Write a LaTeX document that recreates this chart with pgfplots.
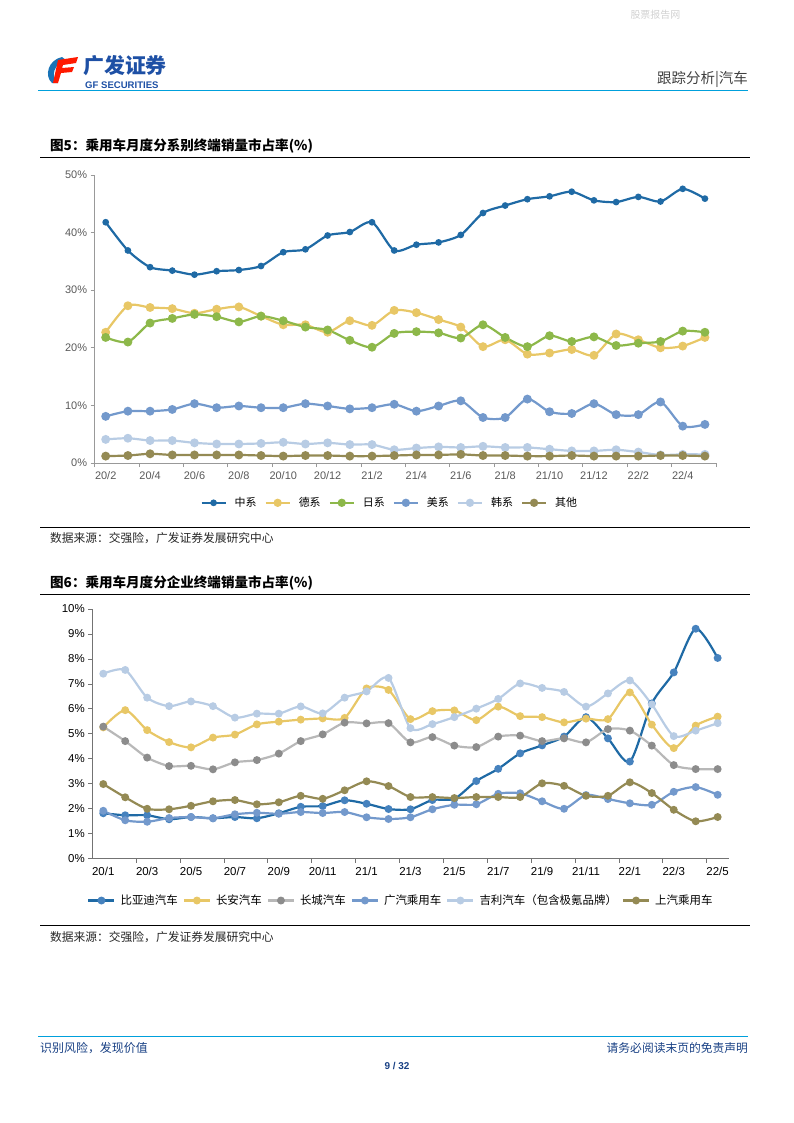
\documentclass[border=0pt]{standalone}
\usepackage{pgfplots}
\pgfplotsset{compat=1.18}
\usepackage{pgfplotstable}
\usepackage{fontspec}
\setmainfont{Liberation Sans}
\newfontfamily\cjk{Noto Sans CJK SC}
\definecolor{cA}{RGB}{31,106,165}
\definecolor{cAm}{RGB}{70,130,190}
\definecolor{cB}{RGB}{232,199,102}
\definecolor{cC}{RGB}{141,184,74}
\definecolor{cD}{RGB}{115,153,204}
\definecolor{cE}{RGB}{184,204,228}
\definecolor{cF}{RGB}{148,138,84}
\definecolor{cG}{RGB}{184,184,184}
\definecolor{cGm}{RGB}{140,140,140}
\definecolor{hdr}{RGB}{0,160,220}
\definecolor{logob}{RGB}{30,80,165}
\definecolor{txtg}{RGB}{89,89,89}

\pgfplotstableread{
x cn de jp us kr ot
0 41.8 22.7 21.8 8.1 4.1 1.2
1 36.9 27.3 21.0 9.0 4.3 1.3
2 34.0 27.0 24.3 9.0 3.9 1.6
3 33.4 26.8 25.1 9.3 3.9 1.4
4 32.7 26.0 25.8 10.3 3.5 1.4
5 33.3 26.7 25.4 9.6 3.3 1.4
6 33.5 27.1 24.5 9.9 3.3 1.4
7 34.2 25.5 25.5 9.6 3.4 1.3
8 36.6 24.0 24.7 9.6 3.6 1.2
9 37.1 24.0 23.6 10.3 3.3 1.3
10 39.5 22.7 23.1 9.9 3.5 1.3
11 40.1 24.7 21.3 9.4 3.2 1.2
12 41.8 23.9 20.1 9.6 3.2 1.2
13 36.9 26.5 22.5 10.2 2.3 1.3
14 37.9 26.1 22.8 9.0 2.6 1.4
15 38.3 24.9 22.6 9.9 2.8 1.4
16 39.6 23.6 21.7 10.8 2.7 1.5
17 43.4 20.2 24.0 7.9 2.9 1.3
18 44.7 21.4 21.8 7.9 2.7 1.3
19 45.8 18.9 20.2 11.1 2.7 1.2
20 46.3 19.1 22.1 8.9 2.4 1.2
21 47.1 19.7 21.1 8.6 2.1 1.3
22 45.6 18.7 21.9 10.3 2.1 1.2
23 45.3 22.4 20.4 8.4 2.3 1.2
24 46.2 21.4 20.8 8.4 1.9 1.2
25 45.4 20.0 21.1 10.6 1.4 1.3
26 47.6 20.3 22.9 6.4 1.5 1.3
27 45.9 21.8 22.7 6.7 1.5 1.2
}\tabA

\pgfplotstableread{
x byd ca gw gac geely saic
0 1.82 5.26 5.29 1.92 7.41 2.99
1 1.74 5.95 4.71 1.54 7.56 2.46
2 1.74 5.15 4.05 1.48 6.45 2.00
3 1.58 4.67 3.71 1.63 6.11 1.98
4 1.67 4.46 3.72 1.67 6.30 2.12
5 1.62 4.85 3.58 1.62 6.11 2.30
6 1.67 4.97 3.86 1.78 5.65 2.35
7 1.62 5.38 3.95 1.84 5.81 2.18
8 1.82 5.49 4.21 1.80 5.81 2.26
9 2.08 5.57 4.71 1.87 6.10 2.52
10 2.11 5.62 4.98 1.83 5.82 2.40
11 2.34 5.64 5.45 1.87 6.45 2.74
12 2.20 6.82 5.42 1.66 6.70 3.10
13 1.99 6.76 5.43 1.59 7.24 2.91
14 1.98 5.59 4.66 1.66 5.23 2.47
15 2.35 5.91 4.87 1.98 5.39 2.47
16 2.40 5.94 4.53 2.16 5.67 2.43
17 3.11 5.55 4.47 2.18 6.01 2.47
18 3.60 6.09 4.89 2.60 6.40 2.47
19 4.22 5.71 4.93 2.62 7.02 2.47
20 4.54 5.67 4.71 2.30 6.84 3.02
21 4.89 5.46 4.82 2.00 6.68 2.92
22 5.67 5.61 4.66 2.55 6.09 2.52
23 4.82 5.59 5.19 2.39 6.62 2.52
24 3.89 6.66 5.13 2.22 7.14 3.06
25 6.22 5.37 4.53 2.16 6.18 2.63
26 7.46 4.43 3.75 2.68 4.91 1.96
27 9.21 5.33 3.59 2.87 5.13 1.50
28 8.04 5.69 3.59 2.56 5.43 1.67
}\tabB

\begin{document}
\begin{tikzpicture}
\begin{scope}[x=1bp,y=-1bp]
\useasboundingbox (0,0) rectangle (794,1123);
% watermark
\node[anchor=west,text=black!18,font=\cjk\fontsize{10}{12}\selectfont] at (627,15) {股票报告网};
% logo
\fill[logob!80!cyan] (62,57) .. controls (48,60) and (44,76) .. (52,83) -- (58,83) .. controls (50,76) and (54,64) .. (66,60) -- cycle;
\fill[red!80!orange] (58,60) -- (78,57) -- (76,63) -- (63,65) -- (62,68) -- (74,67) -- (72,72) -- (61,73) -- (58,83) -- (53,83) -- cycle;
\node[anchor=west,text=logob,font=\cjk\bfseries\fontsize{21}{22}\selectfont,inner sep=0] at (83,66) {广发证券};
\node[anchor=west,text=logob,font=\bfseries\fontsize{9.6}{10}\selectfont,inner sep=0] at (85,85) {GF SECURITIES};
\node[anchor=east,text=black!75,font=\cjk\fontsize{14.5}{16}\selectfont,inner sep=0] at (748,79) {跟踪分析|汽车};
\draw[hdr,line width=1.4bp] (38,90.5) -- (748,90.5);
% chart 1 title
\node[anchor=west,font=\cjk\bfseries\fontsize{13.6}{15}\selectfont,inner sep=0] at (50,146) {图5：乘用车月度分系别终端销量市占率(\%)};
\draw[black,line width=1bp] (40,157) -- (750,157);
\draw[black,line width=1bp] (40,527) -- (750,527);
\node[anchor=west,font=\cjk\fontsize{11.8}{13}\selectfont,inner sep=0,text=black!85] at (50,538) {数据来源：交强险，广发证券发展研究中心};
% chart 2 title
\node[anchor=west,font=\cjk\bfseries\fontsize{13.6}{15}\selectfont,inner sep=0] at (50,583) {图6：乘用车月度分企业终端销量市占率(\%)};
\draw[black,line width=1bp] (40,594) -- (750,594);
\draw[black,line width=1bp] (40,925) -- (750,925);
\node[anchor=west,font=\cjk\fontsize{11.8}{13}\selectfont,inner sep=0,text=black!85] at (50,937) {数据来源：交强险，广发证券发展研究中心};
% footer
\draw[hdr,line width=1.2bp] (38,1036.5) -- (748,1036.5);
\node[anchor=west,font=\cjk\fontsize{12}{14}\selectfont,inner sep=0,text=logob!80!black] at (40,1048) {识别风险，发现价值};
\node[anchor=east,font=\cjk\fontsize{11.8}{14}\selectfont,inner sep=0,text=logob!80!black] at (748,1048) {请务必阅读末页的免责声明};
\node[font=\bfseries\fontsize{10}{12}\selectfont,inner sep=0,text=logob!80!black] at (397,1066) {9 / 32};
\end{scope}

% ---------- chart 1 ----------
\begin{axis}[
  at={(94.6bp,-463bp)}, anchor=south west,
  scale only axis, width=621.4bp, height=288bp,
  xmin=-0.5, xmax=27.5, ymin=0, ymax=50,
  axis x line*=bottom, axis y line*=left,
  axis line style={draw=black!40, line width=0.8bp, -},
  xtick={0,2,...,26},
  xticklabels={20/2,20/4,20/6,20/8,20/10,20/12,21/2,21/4,21/6,21/8,21/10,21/12,22/2,22/4},
  minor xtick={-0.5,1.5,...,27.5},
  major x tick style={draw=none},
  minor x tick style={draw=black!40, line width=0.8bp},
  ytick={0,10,...,50},
  yticklabels={0\%,10\%,20\%,30\%,40\%,50\%},
  y tick style={draw=black!40, line width=0.8bp},
  tick align=outside, major tick length=4bp, minor tick length=4bp,
  ticklabel style={font=\fontsize{11}{13}\selectfont, text=txtg},
  xticklabel style={yshift=-1bp},
  clip=false,
  legend style={at={(0.475,-0.105)}, anchor=north, draw=none, fill=none,
    font=\cjk\fontsize{11}{13}\selectfont, column sep=6bp, legend columns=6},
  legend cell align=left,
  legend image code/.code={\draw[mark repeat=2,mark phase=2,#1] plot coordinates {(0bp,0bp) (12bp,0bp) (24bp,0bp)};},
  every axis plot/.append style={smooth, tension=0.45},
]
\addplot[color=cE, line width=2.2bp, mark=*, mark size=3.3bp, forget plot] table[x=x,y=kr]{\tabA};
\addplot[color=cF, line width=2.2bp, mark=*, mark size=3.3bp, forget plot] table[x=x,y=ot]{\tabA};
\addplot[color=cD, line width=2.2bp, mark=*, mark size=3.3bp, forget plot] table[x=x,y=us]{\tabA};
\addplot[color=cB, line width=2.2bp, mark=*, mark size=3.3bp, forget plot] table[x=x,y=de]{\tabA};
\addplot[color=cC, line width=2.2bp, mark=*, mark size=3.3bp, forget plot] table[x=x,y=jp]{\tabA};
\addplot[color=cA, line width=2.2bp, mark=*, mark size=2.2bp, forget plot] table[x=x,y=cn]{\tabA};
\addlegendimage{color=cA, line width=2.2bp, mark=*, mark size=2.2bp}
\addlegendentry{中系}
\addlegendimage{color=cB, line width=2.2bp, mark=*, mark size=3bp}
\addlegendentry{德系}
\addlegendimage{color=cC, line width=2.2bp, mark=*, mark size=3bp}
\addlegendentry{日系}
\addlegendimage{color=cD, line width=2.2bp, mark=*, mark size=3bp}
\addlegendentry{美系}
\addlegendimage{color=cE, line width=2.2bp, mark=*, mark size=3bp}
\addlegendentry{韩系}
\addlegendimage{color=cF, line width=2.2bp, mark=*, mark size=3bp}
\addlegendentry{其他}
\end{axis}

% ---------- chart 2 ----------
\begin{axis}[
  at={(92.3bp,-858.7bp)}, anchor=south west,
  scale only axis, width=636.3bp, height=249.7bp,
  xmin=-0.5, xmax=28.5, ymin=0, ymax=10,
  axis x line*=bottom, axis y line*=left,
  axis line style={draw=black!55, line width=0.8bp, -},
  xtick={0,2,...,28},
  xticklabels={20/1,20/3,20/5,20/7,20/9,20/11,21/1,21/3,21/5,21/7,21/9,21/11,22/1,22/3,22/5},
  minor xtick={1.5,3.5,...,27.5},
  major x tick style={draw=none},
  minor x tick style={draw=black!55, line width=0.8bp},
  ytick={0,1,...,10},
  yticklabels={0\%,1\%,2\%,3\%,4\%,5\%,6\%,7\%,8\%,9\%,10\%},
  y tick style={draw=black!55, line width=0.8bp},
  tick align=outside, major tick length=4bp, minor tick length=4bp,
  ticklabel style={font=\fontsize{11.5}{13}\selectfont, text=black},
  xticklabel style={yshift=-1bp},
  clip=false,
  legend style={at={(0.485,-0.128)}, anchor=north, draw=none, fill=none,
    font=\cjk\fontsize{11.5}{13}\selectfont, column sep=3bp, legend columns=6},
  legend cell align=left,
  legend image code/.code={\draw[mark repeat=2,mark phase=2,#1] plot coordinates {(0bp,0bp) (13bp,0bp) (26bp,0bp)};},
  every axis plot/.append style={smooth, tension=0.45},
]
\addplot[color=cA, line width=2.2bp, mark=*, mark size=2.8bp, mark options={fill=cAm,draw=cAm}] table[x=x,y=byd]{\tabB};
\addlegendentry{比亚迪汽车}
\addplot[color=cB, line width=2.2bp, mark=*, mark size=2.8bp] table[x=x,y=ca]{\tabB};
\addlegendentry{长安汽车}
\addplot[color=cG, line width=2.2bp, mark=*, mark size=2.8bp, mark options={fill=cGm,draw=cGm}] table[x=x,y=gw]{\tabB};
\addlegendentry{长城汽车}
\addplot[color=cD, line width=2.2bp, mark=*, mark size=2.8bp] table[x=x,y=gac]{\tabB};
\addlegendentry{广汽乘用车}
\addplot[color=cE, line width=2.2bp, mark=*, mark size=2.8bp] table[x=x,y=geely]{\tabB};
\addlegendentry{吉利汽车（包含极氪品牌）}
\addplot[color=cF, line width=2.2bp, mark=*, mark size=2.8bp] table[x=x,y=saic]{\tabB};
\addlegendentry{上汽乘用车}
\end{axis}
\end{tikzpicture}
\end{document}
